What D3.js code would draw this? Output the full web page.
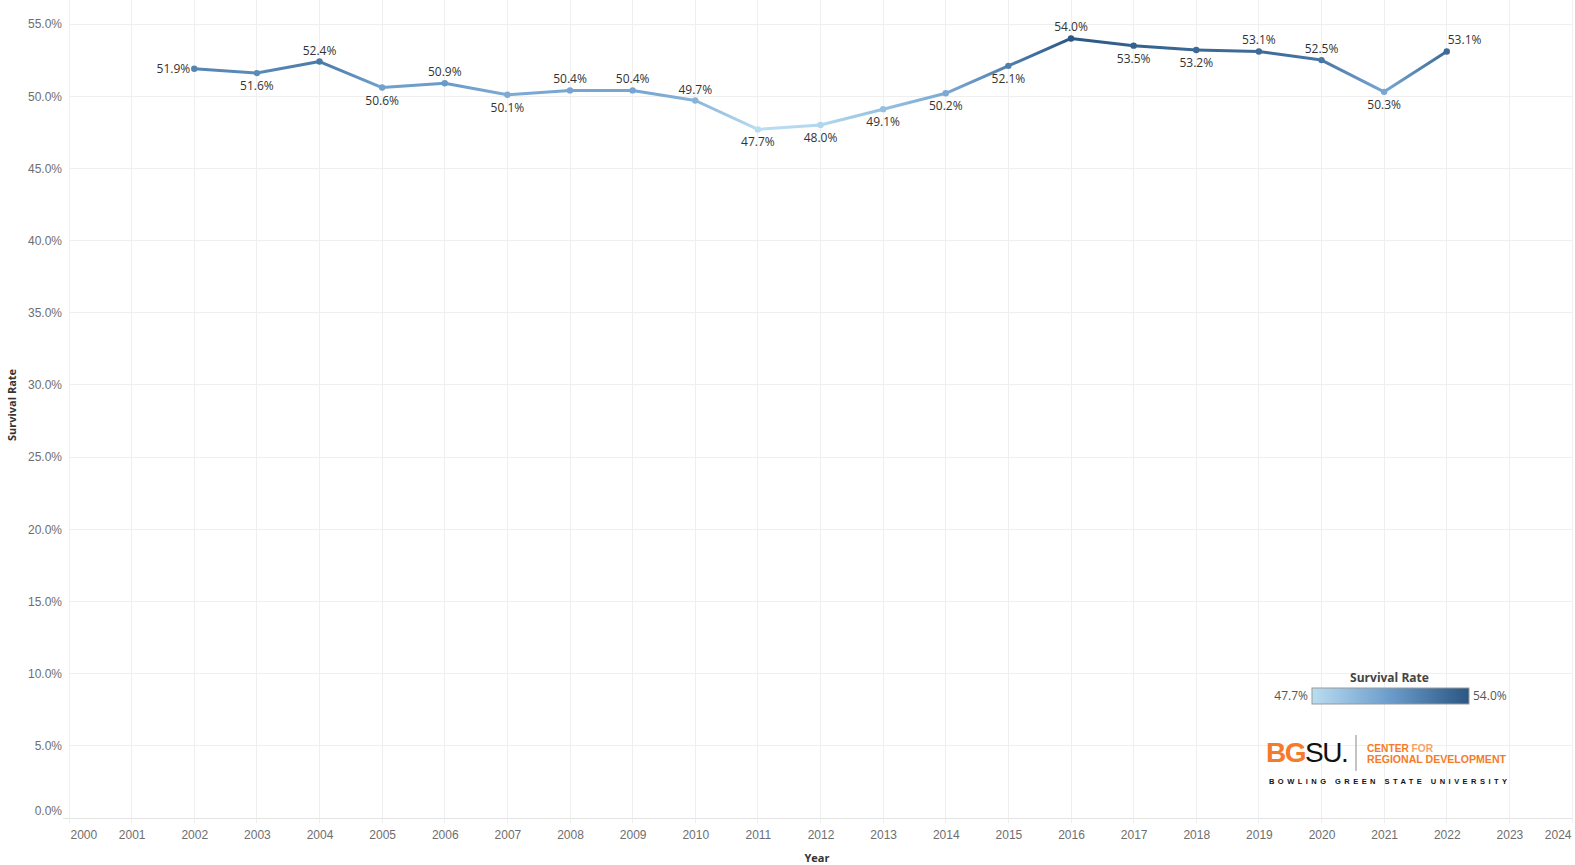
<!DOCTYPE html>
<html>
<head>
<meta charset="utf-8">
<script src="https://cdn.jsdelivr.net/npm/d3@7"></script>
<style>
  body { margin: 0; background: #fff; }
  svg { display: block; font-family: "Open Sans", "Lato", sans-serif; }
</style>
</head>
<body>
<svg id="chart"></svg>
<script>
// Survival rate by year
const years = [2002, 2003, 2004, 2005, 2006, 2007, 2008, 2009, 2010, 2011, 2012,
  2013, 2014, 2015, 2016, 2017, 2018, 2019, 2020, 2021, 2022];
const rates = [51.9, 51.6, 52.4, 50.6, 50.9, 50.1, 50.4, 50.4, 49.7, 47.7, 48.0,
  49.1, 50.2, 52.1, 54.0, 53.5, 53.2, 53.1, 52.5, 50.3, 53.1];
// where each mark label sits relative to its point
const labelSide = ["left", "below", "above", "below", "above", "below", "above", "above", "above", "below", "below",
  "below", "below", "below", "above", "below", "below", "above", "above", "below", "aboveRight"];
const yearTicks = d3.range(2000, 2025);
const rateTicks = d3.range(0, 56, 5);

const width = 1575, height = 865;
const lineWidth = 3;
const gridColor = "#efefef";
const tickTextFill = "#6e6e6e";
const labelFill = "#333";

const svg = d3.select("#chart").attr("width", width).attr("height", height);

const xScale = d3.scaleLinear().domain([2000, 2024]).range([69, 1572]);
const yScale = d3.scaleLinear().domain([0, 55]).range([818, 24]);

const rateMin = d3.min(rates), rateMax = d3.max(rates);
const color = d3.scaleLinear()
  .domain([rateMin, (rateMin + rateMax) / 2, rateMax])
  .range(["#b9ddf1", "#6a9ccb", "#2a5783"])
  .interpolate(d3.interpolateLab);

// grid
svg.append("g")
  .selectAll("line")
  .data(yearTicks)
  .join("line")
  .attr("x1", d => xScale(d)).attr("x2", d => xScale(d))
  .attr("y1", 0).attr("y2", 823)
  .attr("stroke", gridColor)
  .attr("shape-rendering", "crispEdges");

svg.append("g")
  .selectAll("line")
  .data(rateTicks)
  .join("line")
  .attr("x1", d => d === 0 ? 63 : xScale(2000)).attr("x2", xScale(2024))
  .attr("y1", d => yScale(d)).attr("y2", d => yScale(d))
  .attr("stroke", d => d === 0 ? "#e4e4e4" : gridColor)
  .attr("shape-rendering", "crispEdges");

// y axis
const yAxis = svg.append("g")
  .attr("transform", "translate(" + xScale(2000) + ",0)")
  .call(d3.axisLeft(yScale).tickValues(rateTicks).tickSize(0).tickPadding(7)
    .tickFormat(d => d3.format(".1f")(d) + "%"));
yAxis.select(".domain").remove();
yAxis.selectAll("text")
  .attr("fill", tickTextFill)
  .style("font-size", "12px")
  .attr("dy", d => d === 0 ? "-0.3em" : "0.32em");

// x axis
const xAxis = svg.append("g")
  .attr("transform", "translate(0,818)")
  .call(d3.axisBottom(xScale).tickValues(yearTicks).tickSize(0).tickPadding(12)
    .tickFormat(d3.format("d")));
xAxis.select(".domain").remove();
xAxis.selectAll("text")
  .attr("fill", tickTextFill)
  .style("font-size", "12px")
  .attr("text-anchor", d => d === 2000 ? "start" : d === 2024 ? "end" : "middle")
  .attr("x", d => d === 2000 ? 1 : d === 2024 ? -1 : 0);

// axis titles
svg.append("text")
  .text("Year")
  .attr("x", 817).attr("y", 862)
  .attr("text-anchor", "middle")
  .style("font-size", "11px").style("font-weight", "bold")
  .attr("fill", labelFill);

svg.append("text")
  .text("Survival Rate")
  .attr("transform", "translate(16,405) rotate(-90)")
  .attr("text-anchor", "middle")
  .style("font-size", "11px").style("font-weight", "bold")
  .attr("fill", labelFill);

// line, one segment per pair of years with a gradient between the two colours
const points = years.map((y, i) => ({ year: y, rate: rates[i], side: labelSide[i] }));
const segments = d3.pairs(points);
const defs = svg.append("defs");

segments.forEach((s, i) => {
  const g = defs.append("linearGradient")
    .attr("id", "seg" + i)
    .attr("gradientUnits", "userSpaceOnUse")
    .attr("x1", xScale(s[0].year)).attr("y1", yScale(s[0].rate))
    .attr("x2", xScale(s[1].year)).attr("y2", yScale(s[1].rate));
  g.append("stop").attr("offset", "0%").attr("stop-color", color(s[0].rate));
  g.append("stop").attr("offset", "100%").attr("stop-color", color(s[1].rate));
});

svg.append("g")
  .selectAll("line")
  .data(segments)
  .join("line")
  .attr("x1", d => xScale(d[0].year)).attr("y1", d => yScale(d[0].rate))
  .attr("x2", d => xScale(d[1].year)).attr("y2", d => yScale(d[1].rate))
  .attr("stroke", (d, i) => "url(#seg" + i + ")")
  .attr("stroke-width", lineWidth)
  .attr("stroke-linecap", "round");

svg.append("g")
  .selectAll("circle")
  .data(points)
  .join("circle")
  .attr("cx", d => xScale(d.year)).attr("cy", d => yScale(d.rate))
  .attr("r", 3.2)
  .attr("fill", d => color(d.rate));

// mark labels
svg.append("g")
  .selectAll("text")
  .data(points)
  .join("text")
  .text(d => d3.format(".1f")(d.rate) + "%")
  .attr("x", d => xScale(d.year) + (d.side === "left" ? -4 : d.side === "aboveRight" ? 1 : 0))
  .attr("y", d => yScale(d.rate) + (d.side === "below" ? 17 : d.side === "left" ? 4 : -7))
  .attr("text-anchor", d => d.side === "left" ? "end" : d.side === "aboveRight" ? "start" : "middle")
  .style("font-size", "12px")
  .attr("fill", labelFill);

// colour legend
const legendX = 1312, legendW = 157, legendY = 688, legendH = 16;
const lg = defs.append("linearGradient").attr("id", "legendGrad");
d3.range(0, 1.01, 0.1).forEach(t => {
  lg.append("stop")
    .attr("offset", (t * 100) + "%")
    .attr("stop-color", color(rateMin + t * (rateMax - rateMin)));
});

svg.append("text")
  .text("Survival Rate")
  .attr("x", legendX + legendW / 2 - 1).attr("y", 682)
  .attr("text-anchor", "middle")
  .style("font-size", "12px").style("font-weight", "bold")
  .attr("fill", "#444");

svg.append("rect")
  .attr("x", legendX).attr("y", legendY)
  .attr("width", legendW).attr("height", legendH)
  .attr("fill", "url(#legendGrad)")
  .attr("stroke", "#999").attr("stroke-width", 1);

svg.append("text")
  .text(d3.format(".1f")(rateMin) + "%")
  .attr("x", legendX - 4).attr("y", legendY + 12)
  .attr("text-anchor", "end")
  .style("font-size", "12px").attr("fill", "#555");

svg.append("text")
  .text(d3.format(".1f")(rateMax) + "%")
  .attr("x", legendX + legendW + 4).attr("y", legendY + 12)
  .style("font-size", "12px").attr("fill", "#555");

// BGSU logo
const orange = "#f47b2a";
const logo = svg.append("g").style("font-family", "'Liberation Sans', Arial, sans-serif");

const bgsu = logo.append("text")
  .attr("x", 1266).attr("y", 762)
  .style("font-size", "28px")
  .attr("letter-spacing", "-1.5");
bgsu.append("tspan").text("BG").attr("fill", orange).style("font-weight", "bold");
bgsu.append("tspan").text("SU.").attr("fill", "#111");

logo.append("line")
  .attr("x1", 1356).attr("x2", 1356)
  .attr("y1", 735).attr("y2", 771)
  .attr("stroke", "#888").attr("stroke-width", 1);

const center = logo.append("text")
  .attr("x", 1367).attr("y", 751.5)
  .attr("textLength", 66).attr("lengthAdjust", "spacingAndGlyphs")
  .style("font-size", "10.5px").style("font-weight", "bold");
center.append("tspan").text("CENTER ").attr("fill", orange);
center.append("tspan").text("FOR").attr("fill", "#f5a36a");

logo.append("text")
  .text("REGIONAL DEVELOPMENT")
  .attr("x", 1367).attr("y", 762.5)
  .attr("textLength", 139).attr("lengthAdjust", "spacingAndGlyphs")
  .style("font-size", "10.5px").style("font-weight", "bold")
  .attr("fill", orange);

logo.append("text")
  .text("BOWLING GREEN STATE UNIVERSITY")
  .attr("x", 1269).attr("y", 783.5)
  .attr("textLength", 238).attr("lengthAdjust", "spacing")
  .style("font-size", "7.5px").style("font-weight", "bold")
  .attr("fill", "#111");
</script>
</body>
</html>
